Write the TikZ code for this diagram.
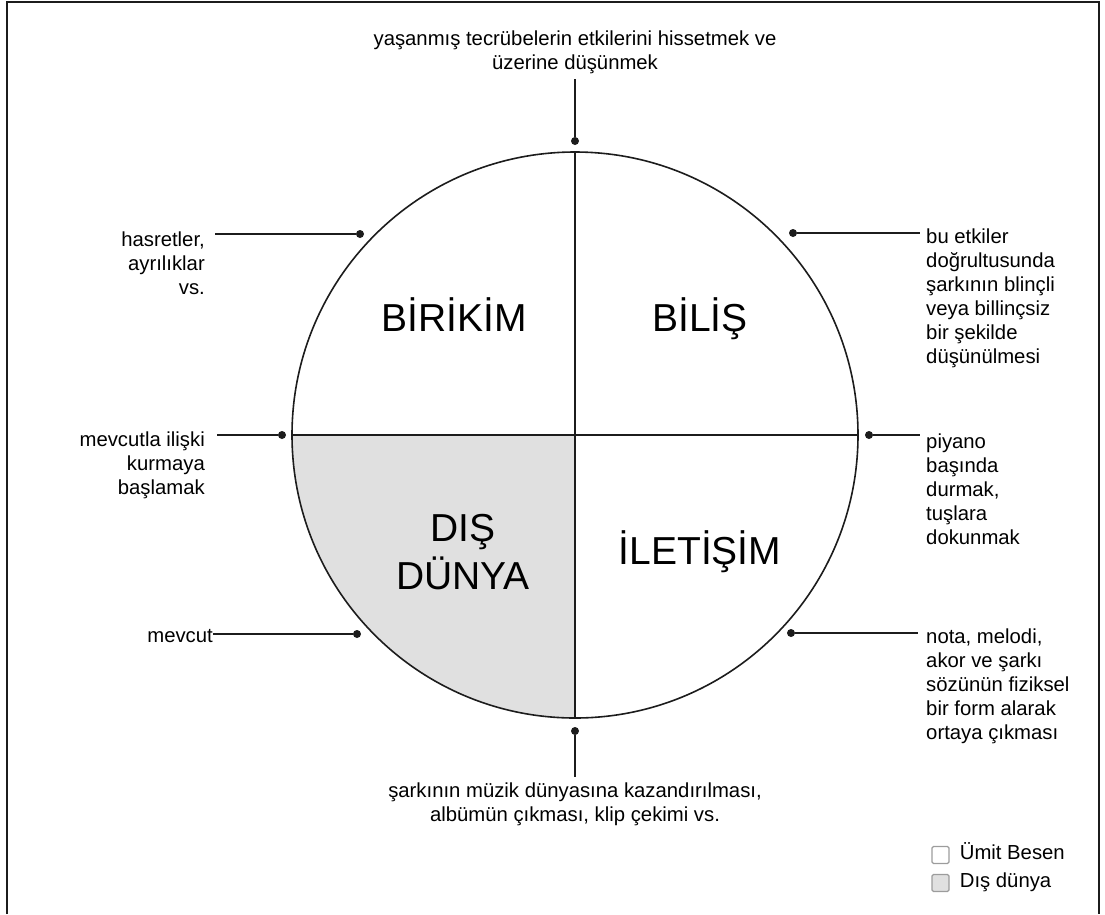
\documentclass[tikz,border=0pt]{standalone}
\usepackage{fontspec}
\setmainfont{Liberation Sans}
\usetikzlibrary{calc,positioning}
\definecolor{LineDark}{HTML}{1C1C1C}
\definecolor{DisFill}{HTML}{E0E0E0}
\definecolor{BoxEdge}{HTML}{9C9C9C}

\begin{document}
\begin{tikzpicture}[x=1pt,y=-1pt,
  note/.style={font=\fontsize{20.3}{24}\selectfont,inner sep=0pt,
    execute at begin node=\strut,execute at end node=\strut},
  quad/.style={font=\fontsize{39}{48}\selectfont,inner sep=0pt},
  dot/.style={circle,fill=LineDark,inner sep=0pt,minimum size=8pt},
  lead/.style={line width=2pt,LineDark},
  keybox/.style={draw=BoxEdge,line width=1.3pt,rounded corners=1.5pt,
    minimum size=17pt,inner sep=0pt}]
  \useasboundingbox (0,0) rectangle (1105,914);
  \draw[LineDark,line width=2pt] (7,914) -- (7,2) -- (1099,2) -- (1099,914);

  \node[circle,draw=LineDark,line width=1.6pt,minimum size=566pt,inner sep=0pt,
    path picture={\fill[DisFill] (path picture bounding box.center)
      rectangle (path picture bounding box.south west);}] (wheel) at (575,435) {};
  \draw[LineDark,line width=1.6pt] (wheel.north) -- (wheel.south);
  \draw[LineDark,line width=1.6pt] (wheel.west) -- (wheel.east);

  \node[quad,anchor=base] (birikim) at (454,331) {BİRİKİM};
  \node[quad,anchor=base] (bilis) at (700,331) {BİLİŞ};
  \node[quad,anchor=base] (iletisim) at (700,564) {İLETİŞİM};
  \node[quad,align=center,anchor=north,execute at begin node=\strut]
    (disdunya) at (463,514) {DIŞ\\DÜNYA};

  \node[dot] (dT)  at (575,141) {};
  \node[dot] (dUR) at (793,233) {};
  \node[dot] (dR)  at (869,435) {};
  \node[dot] (dLR) at (791,633) {};
  \node[dot] (dB)  at (575,731) {};
  \node[dot] (dLL) at (357,634) {};
  \node[dot] (dL)  at (282,435) {};
  \node[dot] (dUL) at (360,234) {};

  \node[note,align=center,anchor=north] (tT) at (575,30.4)
    {yaşanmış tecrübelerin etkilerini hissetmek ve\\üzerine düşünmek};
  \node[note,align=left,anchor=north west] (tUR) at (926,228.4)
    {bu etkiler\\doğrultusunda\\şarkının blinçli\\veya billinçsiz\\bir şekilde\\düşünülmesi};
  \node[note,align=left,anchor=north west] (tR) at (926,433.4)
    {piyano\\başında\\durmak,\\tuşlara\\dokunmak};
  \node[note,align=left,anchor=north west] (tLR) at (926,628.4)
    {nota, melodi,\\akor ve şarkı\\sözünün fiziksel\\bir form alarak\\ortaya çıkması};
  \node[note,align=center,anchor=north] (tB) at (575,783)
    {şarkının müzik dünyasına kazandırılması,\\albümün çıkması, klip çekimi vs.};
  \node[note,anchor=east] (tLL) at (213,638) {mevcut};
  \node[note,align=right,anchor=north east] (tL) at (205,431.4)
    {mevcutla ilişki\\kurmaya\\başlamak};
  \node[note,align=right,anchor=north east] (tUL) at (205,231.4)
    {hasretler,\\ayrılıklar\\vs.};

  \draw[lead] (dT) -- ([yshift=-2pt]dT |- tT.south);
  \draw[lead] (dUR) -- ([xshift=-6pt]dUR -| tUR.west);
  \draw[lead] (dR) -- ([xshift=-6pt]dR -| tR.west);
  \draw[lead] (dLR) -- ([xshift=-8pt]dLR -| tLR.west);
  \draw[lead] (dB) -- ([yshift=6pt]dB |- tB.north);
  \draw[lead] (dLL) -- (dLL -| tLL.east);
  \draw[lead] (dL) -- ([xshift=12pt]dL -| tL.east);
  \draw[lead] (dUL) -- ([xshift=10pt]dUL -| tUL.east);

  \node[keybox] (kU) at (940.5,855) {};
  \node[keybox,fill=DisFill] (kD) at (940.5,883) {};
  \node[note,right=10pt of kU] (lU) {Ümit Besen};
  \node[note,right=10pt of kD] (lD) {Dış dünya};
\end{tikzpicture}
\end{document}
